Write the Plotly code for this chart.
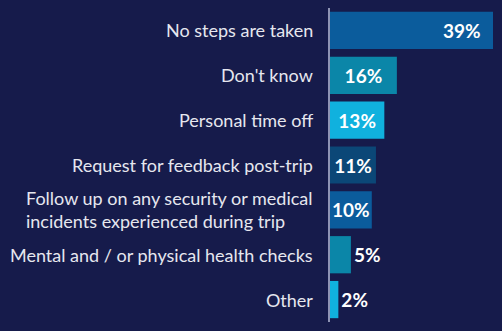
import plotly.graph_objects as go

categories = [
    "No steps are taken",
    "Don't know",
    "Personal time off",
    "Request for feedback post-trip",
    "Follow up on any security or medical<br>incidents experienced during trip",
    "Mental and / or physical health checks",
    "Other",
]
values = [39, 16, 13, 11, 10, 5, 2]
bar_colors = ["#0b5c9c", "#0b86a8", "#10b1de", "#0b4777", "#0b5c9c", "#0b86a8", "#10b1de"]
text_positions = ["none", "inside", "inside", "inside", "inside", "outside", "outside"]

BG = "#161b4b"
LABEL_FONT = dict(family="Lato", size=19, color="white", weight="bold")

fig = go.Figure()
fig.add_trace(go.Bar(
    y=categories,
    x=values,
    orientation="h",
    marker=dict(color=bar_colors, line=dict(width=0)),
    text=[f"{v}%" for v in values],
    textposition=text_positions,
    insidetextanchor="middle",
    textfont=LABEL_FONT,
    cliponaxis=False,
))

# the widest bar carries its label near the bar end
fig.add_annotation(
    x=values[0], y=categories[0], xref="x", yref="y",
    text=f"{values[0]}%", showarrow=False,
    xanchor="right", yanchor="middle", xshift=-10,
    font=LABEL_FONT,
)

for c in categories:
    fig.add_annotation(
        x=0, xref="paper", y=c, yref="y",
        text=c, showarrow=False,
        xanchor="right", yanchor="middle", align="left", xshift=-15,
        font=dict(family="Lato", size=18, color="#e6e7ef"),
    )

fig.update_layout(
    width=502, height=331,
    margin=dict(l=330, r=9, t=8, b=9),
    paper_bgcolor=BG, plot_bgcolor=BG,
    bargap=0.17,
    showlegend=False,
    xaxis=dict(range=[0, 39], visible=False, fixedrange=True),
    yaxis=dict(
        categoryorder="array", categoryarray=categories[::-1],
        showticklabels=False, showline=True, linecolor="#8e93b3", linewidth=2,
        showgrid=False, zeroline=False, ticks="",
    ),
    uniformtext=dict(minsize=19, mode="show"),
)

fig.write_html("out.html")
